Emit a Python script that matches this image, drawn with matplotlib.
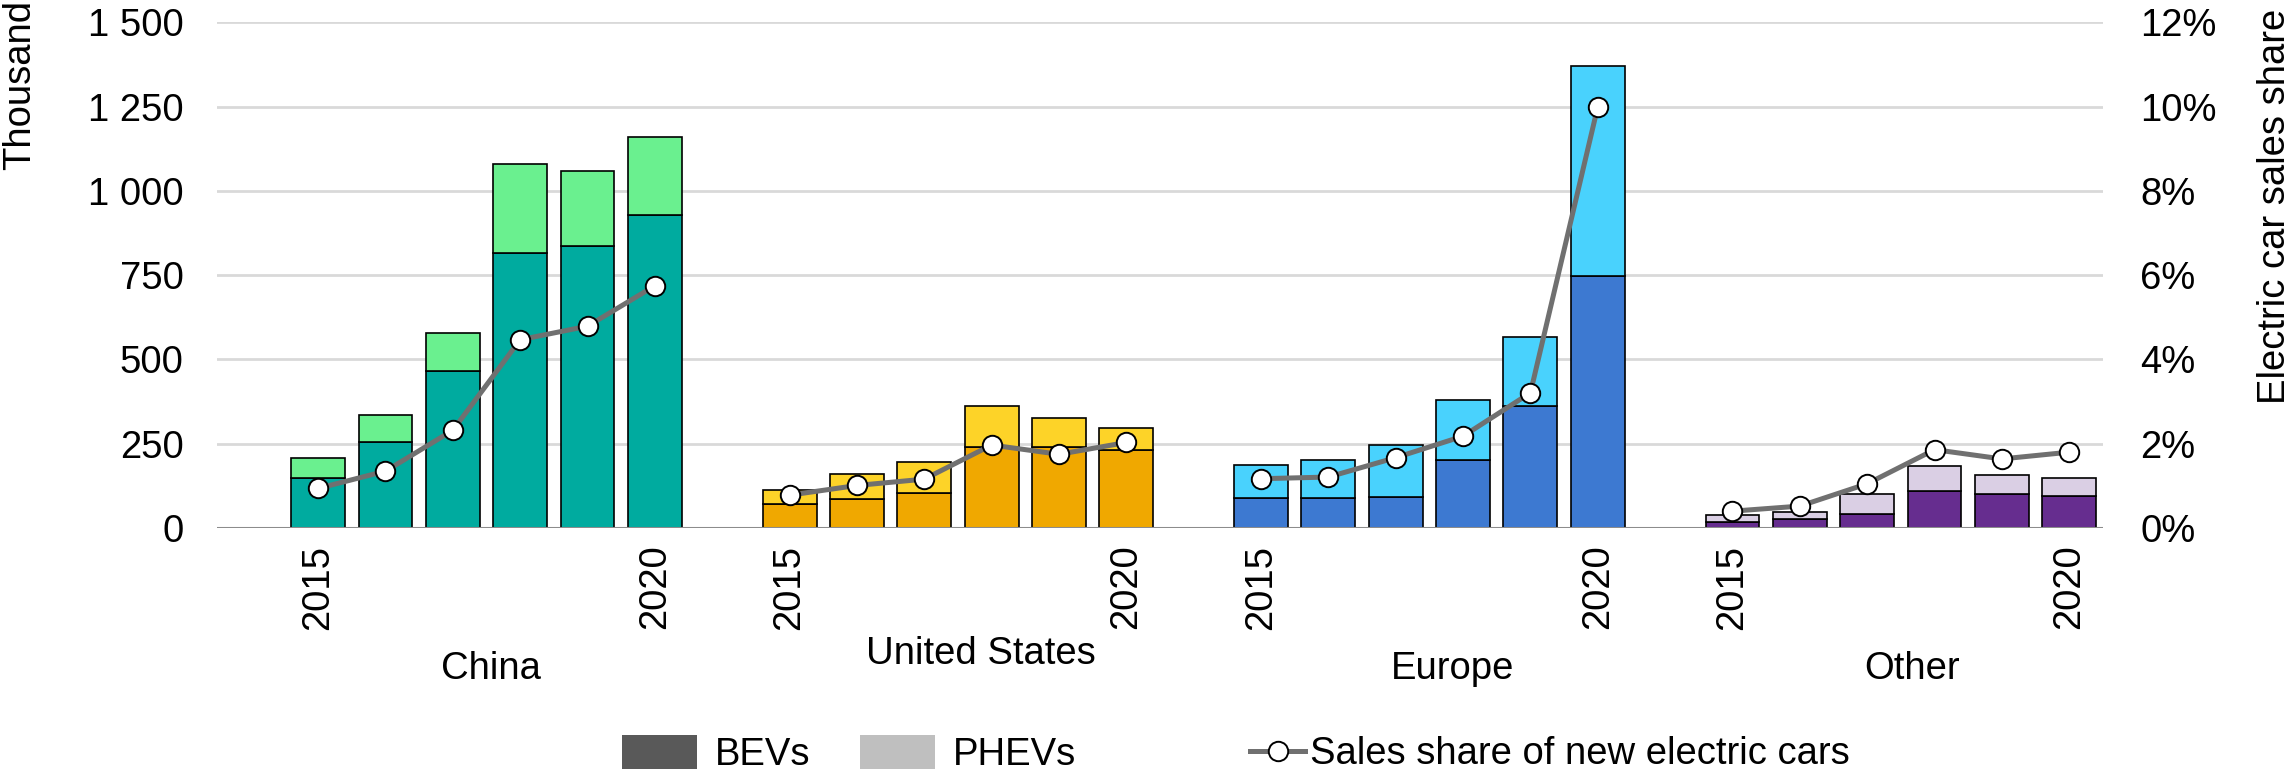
import numpy as np
import matplotlib
matplotlib.use("Agg")
import matplotlib.pyplot as plt
from matplotlib.patches import Patch
from matplotlib.lines import Line2D
from matplotlib.ticker import FuncFormatter, PercentFormatter

plt.rcParams['font.family'] = ['Liberation Sans', 'DejaVu Sans']

# Data (thousand vehicles, share in %)
regions = ["China", "United States", "Europe", "Other"]
years = [2015, 2016, 2017, 2018, 2019, 2020]

china_bev = [147, 256, 467, 816, 836, 930]
china_phev = [61, 80, 111, 265, 223, 230]
china_share = [0.94, 1.35, 2.32, 4.47, 4.79, 5.75]

us_bev = [70, 86, 103, 239, 241, 230]
us_phev = [43, 73, 94, 122, 86, 66]
us_share = [0.78, 1.01, 1.16, 1.97, 1.75, 2.03]

europe_bev = [88, 88, 92, 202, 362, 748]
europe_phev = [99, 115, 155, 178, 206, 624]
europe_share = [1.17, 1.21, 1.67, 2.18, 3.21, 10.0]

other_bev = [19, 26, 43, 111, 101, 95]
other_phev = [19, 21, 59, 72, 56, 53]
other_share = [0.40, 0.52, 1.05, 1.86, 1.64, 1.80]

bev = [china_bev, us_bev, europe_bev, other_bev]
phev = [china_phev, us_phev, europe_phev, other_phev]
share = [china_share, us_share, europe_share, other_share]

bev_colors = ["#00ab9f", "#f0a800", "#3d79d1", "#662d8f"]
phev_colors = ["#6af08f", "#fdd328", "#49d2fd", "#dacfe4"]

FS = 27.5

fig = plt.figure(figsize=(22.95, 7.75), dpi=100)
ax = fig.add_axes([0.0946, 0.3187, 0.8217, 0.6523])
ax2 = ax.twinx()

slots = 7  # one empty slot then six years per region
xticks, xlabels = [], []
for g in range(len(regions)):
    x = g * slots + 1 + np.arange(len(years))
    ax.bar(x, bev[g], width=0.8, color=bev_colors[g], edgecolor="black",
           linewidth=1.2, zorder=3)
    ax.bar(x, phev[g], width=0.8, bottom=bev[g], color=phev_colors[g],
           edgecolor="black", linewidth=1.2, zorder=3)
    ax2.plot(x, np.array(share[g]) / 100, color="#707070", lw=3.6,
             marker="o", markersize=14, markerfacecolor="white",
             markeredgecolor="black", markeredgewidth=1.4, zorder=4)
    xticks += list(x)
    xlabels += [str(years[0])] + [""] * 4 + [str(years[-1])]

ax.set_xlim(-0.5, slots * len(regions) - 0.5)
ax.set_ylim(0, 1500)
ax.set_yticks(np.arange(0, 1501, 250))
ax.yaxis.set_major_formatter(FuncFormatter(lambda v, p: f"{int(v):,}".replace(",", " ")))
ax2.set_ylim(0, 0.12)
ax2.set_yticks(np.arange(0, 0.121, 0.02))
ax2.yaxis.set_major_formatter(PercentFormatter(1.0, decimals=0))

ax.set_xticks(xticks)
ax.set_xticklabels(xlabels, rotation=90)
ax.grid(axis="y", color="#d9d9d9", lw=2, zorder=0)
ax.axhline(0, color="#8c8c8c", lw=2.2, zorder=4)

for a in (ax, ax2):
    for s in a.spines.values():
        s.set_visible(False)
ax.tick_params(axis="x", length=0, pad=12, labelsize=FS)
ax.tick_params(axis="y", length=0, pad=24, labelsize=FS)
ax2.tick_params(axis="y", length=0, pad=27, labelsize=FS)

# region labels
label_offset = [3.57, 3.84, 3.85, 3.67]
label_y = [-0.279, -0.249, -0.279, -0.279]
for g, name in enumerate(regions):
    ax.text(g * slots + label_offset[g], label_y[g], name, ha="center", va="center",
            fontsize=FS, transform=ax.get_xaxis_transform())

fig.text(0.001, 1.0, "Thousand", rotation=90, ha="left", va="top", fontsize=FS)
fig.text(0.999, 0.734, "Electric car sales share", rotation=90, ha="right",
         va="center", fontsize=FS)

# legend
bar_handles = [Patch(facecolor="#595959", edgecolor="none", label="BEVs"),
               Patch(facecolor="#bfbfbf", edgecolor="none", label="PHEVs")]
fig.legend(handles=bar_handles, loc="center left",
           bbox_to_anchor=(622 / 2295, 0.027), ncol=2, frameon=False,
           fontsize=FS, borderpad=0, borderaxespad=0, handlelength=1.96,
           handleheight=1.0, handletextpad=0.47, columnspacing=1.3)
line_handle = [Line2D([], [], color="#707070", lw=3.6, marker="o", markersize=14,
                      markerfacecolor="white", markeredgecolor="black",
                      markeredgewidth=1.4, label="Sales share of new electric cars")]
fig.legend(handles=line_handle, loc="center left",
           bbox_to_anchor=(1250 / 2295, 0.027), frameon=False, fontsize=FS,
           borderpad=0, borderaxespad=0, handlelength=1.44, handletextpad=0.12)

fig.savefig("out.png", dpi=100)
